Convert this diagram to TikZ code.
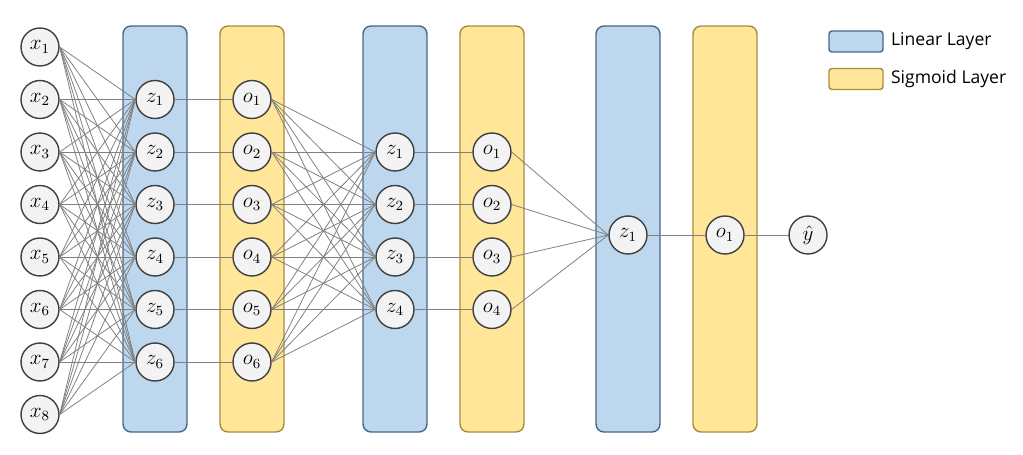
\documentclass[tikz,border=0pt]{standalone}
\usepackage{fontspec}
\newfontfamily\legendfont{Open Sans}
\definecolor{linfill}{RGB}{189,215,238}
\definecolor{lindraw}{RGB}{70,104,140}
\definecolor{sigfill}{RGB}{255,230,153}
\definecolor{sigdraw}{RGB}{168,140,62}
\definecolor{cellfill}{RGB}{243,243,243}
\begin{document}
\begin{tikzpicture}[x=0.02cm,y=-0.02cm,
    neuron/.style={circle,draw=black!75,fill=cellfill,line width=0.8pt,minimum size=0.76cm,inner sep=0pt,font=\large},
    linbar/.style={draw=lindraw,fill=linfill,line width=0.8pt,rounded corners=0.16cm},
    sigbar/.style={draw=sigdraw,fill=sigfill,line width=0.8pt,rounded corners=0.16cm},
    wire/.style={draw=black!50,line width=0.45pt}]
\useasboundingbox (0,0) rectangle (1023,455);
% layer bars
\foreach \cx in {155,395,628}
    \draw[linbar] (\cx-32,26) rectangle (\cx+32,432);
\foreach \cx in {252,492,725}
    \draw[sigbar] (\cx-32,26) rectangle (\cx+32,432);
% neurons
\foreach \i in {1,...,8}
    \node[neuron] (x\i) at (40,{47+52.5*(\i-1)}) {$x_\i$};
\foreach \i in {1,...,6} {
    \node[neuron] (za\i) at (155,{99.5+52.5*(\i-1)}) {$z_\i$};
    \node[neuron] (oa\i) at (252,{99.5+52.5*(\i-1)}) {$o_\i$};
}
\foreach \i in {1,...,4} {
    \node[neuron] (zb\i) at (395,{152+52.5*(\i-1)}) {$z_\i$};
    \node[neuron] (ob\i) at (492,{152+52.5*(\i-1)}) {$o_\i$};
}
\node[neuron] (zc1) at (628,235) {$z_1$};
\node[neuron] (oc1) at (725,235) {$o_1$};
\node[neuron] (yhat) at (808,235) {$\hat{y}$};
% connections
\foreach \i in {1,...,8}
    \foreach \j in {1,...,6}
        \draw[wire] (x\i.east) -- (za\j.west);
\foreach \i in {1,...,6}
    \draw[wire] (za\i.east) -- (oa\i.west);
\foreach \i in {1,...,6}
    \foreach \j in {1,...,4}
        \draw[wire] (oa\i.east) -- (zb\j.west);
\foreach \i in {1,...,4} {
    \draw[wire] (zb\i.east) -- (ob\i.west);
    \draw[wire] (ob\i.east) -- (zc1.west);
}
\draw[wire] (zc1.east) -- (oc1.west);
\draw[wire] (oc1.east) -- (yhat.west);
% legend
\node[linbar,rounded corners=0.06cm,minimum width=1.08cm,minimum height=0.42cm,inner sep=0pt] (linkey) at (856,41.5) {};
\node[anchor=west,font=\legendfont,inner sep=0pt] (lintext) at ([xshift=0.14cm]linkey.east) {Linear Layer};
\node[sigbar,rounded corners=0.06cm,minimum width=1.08cm,minimum height=0.42cm,inner sep=0pt] (sigkey) at (856,79) {};
\node[anchor=west,font=\legendfont,inner sep=0pt] (sigtext) at ([xshift=0.14cm]sigkey.east) {Sigmoid Layer};
\end{tikzpicture}
\end{document}
